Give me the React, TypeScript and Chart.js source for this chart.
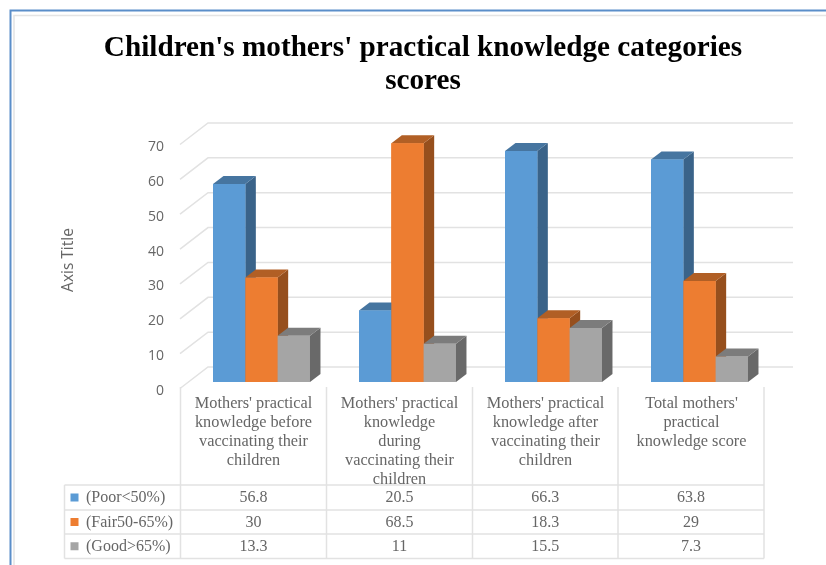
import React, { useEffect, useRef } from "react";
import { Chart, registerables } from "chart.js";

Chart.register(...registerables);

const titleLines = ["Children's mothers' practical knowledge categories", "scores"];
const categories = [
  ["Mothers' practical", "knowledge before", "vaccinating their", "children"],
  ["Mothers' practical", "knowledge", "during", "vaccinating their", "children"],
  ["Mothers' practical", "knowledge after", "vaccinating their", "children"],
  ["Total mothers'", "practical", "knowledge score"],
];
const poor = [56.8, 20.5, 66.3, 63.8];
const fair = [30, 68.5, 18.3, 29];
const good = [13.3, 11, 15.5, 7.3];
const seriesNames = ["(Poor<50%)", "(Fair50-65%)", "(Good>65%)"];
const frontColors = ["#5b9bd5", "#ed7d31", "#a5a5a5"];
const topColors = ["#4675a0", "#b15f25", "#7c7c7c"];
const sideColors = ["#3a6389", "#964f1d", "#696969"];

const SERIF = "'Liberation Serif', serif";
const SANS = "'Open Sans', sans-serif";
const TEXT = "#666666";
const LINE = "#e2e2e2";

const depthPlugin = {
  id: "depth",
  beforeDatasetsDraw(chart: any) {
    const { ctx, scales } = chart;
    const y = scales.y;
    ctx.save();
    ctx.strokeStyle = "#e2e2e2";
    ctx.lineWidth = 1.5;
    y.ticks.forEach((_: any, i: number) => {
      const p = y.getPixelForTick(i);
      ctx.beginPath();
      ctx.moveTo(180, p + 6.5);
      ctx.lineTo(208, p - 15);
      ctx.lineTo(793, p - 15);
      ctx.stroke();
    });
    ctx.restore();
  },
  afterDatasetsDraw(chart: any) {
    const { ctx } = chart;
    const dx = 10.5;
    const dy = -8;
    chart.data.datasets.forEach((_: any, i: number) => {
      chart.getDatasetMeta(i).data.forEach((bar: any) => {
        const l = bar.x - bar.width / 2;
        const r = bar.x + bar.width / 2;
        const t = bar.y;
        const b = bar.base;
        ctx.fillStyle = sideColors[i];
        ctx.beginPath();
        ctx.moveTo(r, t);
        ctx.lineTo(r + dx, t + dy);
        ctx.lineTo(r + dx, b + dy);
        ctx.lineTo(r, b);
        ctx.closePath();
        ctx.fill();
        ctx.fillStyle = topColors[i];
        ctx.beginPath();
        ctx.moveTo(l, t);
        ctx.lineTo(l + dx, t + dy);
        ctx.lineTo(r + dx, t + dy);
        ctx.lineTo(r, t);
        ctx.closePath();
        ctx.fill();
        bar.draw(ctx);
      });
    });
  },
};

const tablePlugin = {
  id: "dataTable",
  afterDraw(chart: any) {
    const { ctx } = chart;
    const colX = [180.5, 326.5, 472.5, 618, 764];
    const rowY = [485, 510, 534, 558.5];
    ctx.save();

    // outer page frame
    ctx.strokeStyle = "#5b8ec9";
    ctx.lineWidth = 2;
    ctx.beginPath();
    ctx.moveTo(10.5, 565);
    ctx.lineTo(10.5, 10.5);
    ctx.lineTo(826, 10.5);
    ctx.stroke();
    ctx.strokeStyle = "#e4e4e4";
    ctx.lineWidth = 1.5;
    ctx.beginPath();
    ctx.moveTo(14, 565);
    ctx.lineTo(14, 15.5);
    ctx.lineTo(826, 15.5);
    ctx.stroke();

    // table rules
    ctx.strokeStyle = LINE;
    ctx.lineWidth = 1.5;
    ctx.beginPath();
    colX.forEach((x) => {
      ctx.moveTo(x, 387);
      ctx.lineTo(x, rowY[3]);
    });
    ctx.moveTo(64.5, rowY[0]);
    ctx.lineTo(64.5, rowY[3]);
    rowY.forEach((y) => {
      ctx.moveTo(64.5, y);
      ctx.lineTo(764, y);
    });
    ctx.stroke();

    // rows
    ctx.font = `16px ${SERIF}`;
    ctx.textBaseline = "middle";
    chart.data.datasets.forEach((ds: any, i: number) => {
      const cy = (rowY[i] + rowY[i + 1]) / 2 + 0.5;
      ctx.fillStyle = frontColors[i];
      ctx.fillRect(70.5, cy - 4.5, 8, 8);
      ctx.fillStyle = TEXT;
      ctx.textAlign = "left";
      ctx.fillText(seriesNames[i], 86, cy);
      ctx.textAlign = "center";
      ds.data.forEach((v: number, j: number) => {
        ctx.fillText(String(v), (colX[j] + colX[j + 1]) / 2, cy);
      });
    });
    ctx.restore();
  },
};

export default function App() {
  const ref = useRef<HTMLCanvasElement>(null);
  useEffect(() => {
    document.body.style.margin = "0";
    const values = [poor, fair, good];
    const chart = new Chart(ref.current!, {
      type: "bar",
      data: {
        labels: categories as any,
        datasets: values.map((data, i) => ({
          label: seriesNames[i],
          data,
          backgroundColor: frontColors[i],
          borderWidth: 0,
          categoryPercentage: 0.664,
          barPercentage: 1,
        })),
      },
      options: {
        animation: false,
        responsive: false,
        layout: { padding: { left: 20, right: 0, top: 0, bottom: 0 } },
        plugins: {
          legend: { display: false },
          tooltip: { enabled: false },
          title: {
            display: true,
            text: titleLines,
            color: "#000000",
            font: { family: SERIF, size: 29.2, weight: "bold", lineHeight: "33px" },
            padding: { top: 32, bottom: 40 },
          },
        },
        scales: {
          x: {
            grid: { display: false },
            border: { display: false },
            ticks: {
              autoSkip: false,
              maxRotation: 0,
              minRotation: 0,
              padding: 4,
              labelOffset: -8,
              color: TEXT,
              font: { family: SERIF, size: 16.3, lineHeight: "19px" },
            },
            afterFit(s: any) {
              s.height = 183;
            },
          },
          y: {
            min: 0,
            max: 70,
            ticks: {
              stepSize: 10,
              padding: 24.5,
              labelOffset: 9,
              color: TEXT,
              font: { family: SANS, size: 14 },
            },
            grid: { display: false, drawTicks: false },
            border: { display: false },
            title: {
              display: true,
              text: "Axis Title",
              color: TEXT,
              font: { family: SANS, size: 15.5 },
              padding: { top: 39, bottom: 0 },
            },
            afterFit(s: any) {
              s.width = 168.5;
            },
          },
          yRightSpacer: {
            position: "right",
            ticks: { display: false },
            grid: { display: false, drawTicks: false },
            border: { display: false },
            afterFit(s: any) {
              s.width = 53.5;
            },
          },
        },
      } as any,
      plugins: [depthPlugin, tablePlugin],
    });
    return () => chart.destroy();
  }, []);
  return <canvas ref={ref} width={826} height={565} style={{ display: "block" }} />;
}
